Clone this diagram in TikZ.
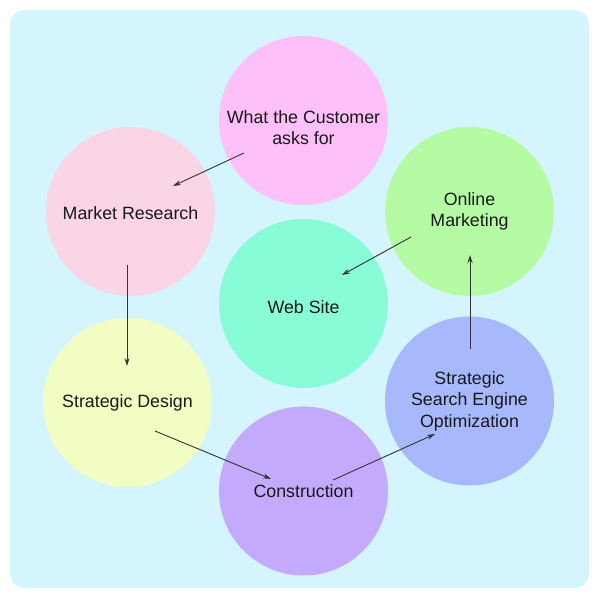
\documentclass[tikz,border=0pt]{standalone}
\usepackage{fontspec}
\setmainfont{Liberation Sans}
\usetikzlibrary{arrows.meta}
\definecolor{bgcyan}{HTML}{D4F5FE}
\definecolor{cTop}{HTML}{FDC0F8}
\definecolor{cMarket}{HTML}{F9D5E6}
\definecolor{cOnline}{HTML}{B4FBA4}
\definecolor{cWeb}{HTML}{88FCD6}
\definecolor{cDesign}{HTML}{F1FDC3}
\definecolor{cSeo}{HTML}{A7B9FC}
\definecolor{cBuild}{HTML}{C3AAFC}
\tikzset{
  blob/.style={circle, minimum size=169pt, inner sep=0pt},
  blobtext/.style={align=center, inner sep=0pt, text=black!90,
    font=\fontsize{17.8}{21.5}\selectfont},
  flow/.style={draw=black!80, line width=0.9pt, -{Stealth[length=8pt,width=5pt]}}
}
\begin{document}
\begin{tikzpicture}[x=1pt,y=1pt]
  \useasboundingbox (0,0) rectangle (600,600);
  \fill[bgcyan, rounded corners=15pt] (10,12) rectangle (589,590);
  % the seven circles and their texts
  \foreach \nm/\x/\y/\col/\dy/\txt in {
      top/303.5/479.5/cTop/-7/{What the Customer\\asks for},
      mr/130.5/388.5/cMarket/-2/{Market Research},
      om/469.5/388.5/cOnline/0/{Online\\Marketing},
      web/303.5/296.5/cWeb/-4/{Web Site},
      sd/127.5/197.5/cDesign/0/{Strategic Design},
      seo/469.5/199/cSeo/0/{Strategic\\Search Engine\\Optimization},
      con/303.5/109/cBuild/0/{Construction}} {
        \node[blob, fill=\col] (\nm) at (\x,\y) {};
        \node[blobtext] (\nm-txt) at ([yshift=\dy]\nm.center) {\txt};
      }
  % arrows between them
  \foreach \a/\ao/\b/\bo in {
      top/{-59.5,-32.5}/mr/{42.5,25.5},
      mr/{-3.5,-53.5}/sd/{-0.5,36.5},
      sd/{27.5,-28.5}/con/{-32.5,12},
      con/{29.5,11}/seo/{-34.5,-33},
      seo/{0.5,52}/om/{0.5,-43.5},
      om/{-58.5,-25.5}/web/{38.5,28.5}} {
        \draw[flow] ([shift={(\ao)}]\a.center) -- ([shift={(\bo)}]\b.center);
      }
\end{tikzpicture}
\end{document}
